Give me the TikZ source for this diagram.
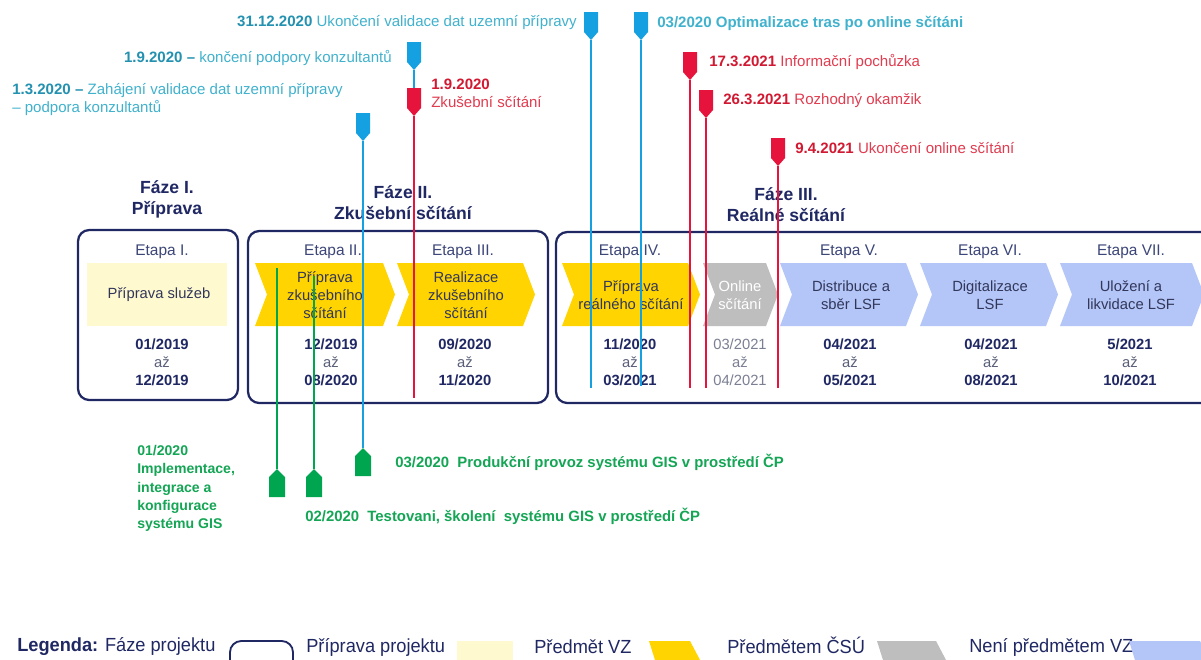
\documentclass[tikz,border=0pt]{standalone}
\usepackage{fontspec}
\setmainfont{Liberation Sans}
\newfontfamily\narrowfont[FakeStretch=0.96]{Liberation Sans}

\definecolor{navy}{RGB}{32,40,100}
\definecolor{etapatext}{RGB}{60,70,120}
\definecolor{steptext}{RGB}{50,55,90}
\definecolor{azgray}{RGB}{90,95,120}
\definecolor{cream}{RGB}{255,249,208}
\definecolor{stepyellow}{RGB}{255,212,0}
\definecolor{stepgray}{RGB}{190,190,190}
\definecolor{stepblue}{RGB}{180,198,248}
\definecolor{markcyan}{RGB}{20,160,225}
\definecolor{cyantext}{RGB}{65,178,205}
\definecolor{cyandark}{RGB}{35,145,175}
\definecolor{markred}{RGB}{230,20,60}
\definecolor{redtext}{RGB}{225,60,80}
\definecolor{reddark}{RGB}{210,25,50}
\definecolor{markgreen}{RGB}{0,165,80}
\definecolor{greentext}{RGB}{20,165,85}

\begin{document}
\begin{tikzpicture}[x=0.025cm,y=-0.025cm,
    phasebox/.style={draw=navy,line width=1.6pt,rounded corners=8pt},
    phasetitle/.style={align=center,text=navy,font=\bfseries\fontsize{12.5}{15}\selectfont},
    etapa/.style={text=etapatext,font=\fontsize{11}{13}\selectfont},
    stepname/.style={align=center,text=steptext,font=\fontsize{10.5}{12.8}\selectfont,inner sep=0},
    period/.style={align=center,text=navy,font=\fontsize{10.5}{12.8}\selectfont,inner sep=0},
    cyanlabel/.style={text=cyantext,font=\fontsize{10.7}{12.8}\selectfont,inner sep=0},
    redlabel/.style={text=redtext,font=\fontsize{10.7}{12.8}\selectfont,inner sep=0},
    greenlabel/.style={text=greentext,align=left,font=\bfseries\fontsize{10}{13}\selectfont,inner sep=0},
    legendtext/.style={text=navy,anchor=west,inner sep=0,font=\narrowfont\fontsize{13.5}{15}\selectfont},
    markline/.style={line width=1pt}]
    \providecommand{\chevron}[3]{\fill[#3] (#1,263) -- (#2-12,263) -- (#2,294.5) -- (#2-12,326) -- (#1,326) -- (#1+12,294.5) -- cycle;}
    \providecommand{\downflag}[4]{\fill[#4] (#2-7,#3) -- (#2+7,#3) -- (#2+7,#3+20) -- (#2,#3+28) -- (#2-7,#3+20) -- cycle;
        \coordinate (#1-top) at (#2,#3); \coordinate (#1) at (#2,#3+28);}
    \providecommand{\upflag}[4]{\fill[#4] (#2-8,#3) -- (#2-8,#3-20) -- (#2,#3-28) -- (#2+8,#3-20) -- (#2+8,#3) -- cycle;
        \coordinate (#1) at (#2,#3-28);}
    \providecommand{\period}[2]{\textbf{#1}\\{\color{azgray}až}\\\textbf{#2}}
    \clip (0,0) rectangle (1201,659);
    \fill[white] (0,0) rectangle (1201,659);

    % phases
    \draw[phasebox] (78,230) rectangle (238,400);
    \draw[phasebox] (248,231) rectangle (548,403);
    \draw[phasebox] (556,232) rectangle (1230,403);
    \node[phasetitle] (f1) at (167,199) {Fáze I.\\Příprava};
    \node[phasetitle] (f2) at (403,203) {Fáze II.\\Zkušební sčítání};
    \node[phasetitle] (f3) at (786,205) {Fáze III.\\Reálné sčítání};

    % steps
    \fill[cream] (87,263) rectangle (227,326);
    \chevron{255}{395}{stepyellow}
    \chevron{397}{535}{stepyellow}
    \chevron{562}{700}{stepyellow}
    \chevron{703}{778}{stepgray}
    \chevron{780}{918}{stepblue}
    \chevron{920}{1058}{stepblue}
    \chevron{1060}{1204}{stepblue}
    \foreach \x/\name/\lab in {162/e1/I., 333/e2/II., 463/e3/III., 630/e4/IV., 849/e5/V., 990/e6/VI., 1131/e7/VII.}
        \node[etapa] (\name) at (\x,252) {Etapa \lab};
    \node[stepname] (s1) at (159,295) {Příprava služeb};
    \node[stepname] (s2) at (325,295) {Příprava\\zkušebního\\sčítání};
    \node[stepname] (s3) at (466,295) {Realizace\\zkušebního\\sčítání};
    \node[stepname] (s4) at (631,295) {Příprava\\reálného sčítání};
    \node[stepname,text=white] (s5) at (740,295) {Online\\sčítání};
    \node[stepname] (s6) at (851,295) {Distribuce a\\sběr LSF};
    \node[stepname] (s7) at (990,295) {Digitalizace\\LSF};
    \node[stepname] (s8) at (1131,295) {Uložení a\\likvidace LSF};

    % periods
    \foreach \x/\name/\from/\to in {162/d1/{01/2019}/{12/2019}, 331/d2/{12/2019}/{08/2020}, 465/d3/{09/2020}/{11/2020},
        630/d4/{11/2020}/{03/2021}, 850/d6/{04/2021}/{05/2021}, 991/d7/{04/2021}/{08/2021}, 1130/d8/{5/2021}/{10/2021}}
        \node[period] (\name) at (\x,362) {\period{\from}{\to}};
    \node[period,text=azgray!80] (d5) at (740,362) {03/2021\\až\\04/2021};

    % milestones
    \downflag{c1}{591}{12}{markcyan}
    \downflag{c2}{641}{12}{markcyan}
    \downflag{c3}{414}{42}{markcyan}
    \downflag{c4}{363}{113}{markcyan}
    \downflag{r1}{414}{88}{markred}
    \downflag{r2}{690}{52}{markred}
    \downflag{r3}{706}{90}{markred}
    \downflag{r4}{778}{138}{markred}
    \upflag{g1}{277}{497}{markgreen}
    \upflag{g2}{314}{497}{markgreen}
    \upflag{g3}{363}{476}{markgreen}
    \coordinate (c1end) at (591,388);
    \coordinate (c2end) at (641,386);
    \coordinate (r1end) at (414,398);
    \coordinate (r2end) at (690,388);
    \coordinate (r3end) at (706,388);
    \coordinate (r4end) at (778,388);
    \coordinate (g1end) at (277,268);
    \coordinate (g2end) at (314,276);
    \draw[markline,markcyan] (c1) -- (c1end);
    \draw[markline,markcyan] (c2) -- (c2end);
    \draw[markline,markcyan] (c3) -- (r1-top);
    \draw[markline,markcyan] (c4) -- (g3);
    \draw[markline,markred] (r1) -- (r1end);
    \draw[markline,markred] (r2) -- (r2end);
    \draw[markline,markred] (r3) -- (r3end);
    \draw[markline,markred] (r4) -- (r4end);
    \draw[markline,markgreen] (g1) -- (g1end);
    \draw[markline,markgreen] (g2) -- (g2end);

    \node[cyanlabel,anchor=east] (c1lab) at (577,23) {{\bfseries\color{cyandark}31.12.2020} Ukončení validace dat uzemní přípravy};
    \node[cyanlabel,anchor=west,font=\bfseries\fontsize{10.7}{12.8}\selectfont] (c2lab) at (657,23) {03/2020 Optimalizace tras po online sčítáni};
    \node[cyanlabel,anchor=east] (c3lab) at (392,58) {{\bfseries\color{cyandark}1.9.2020 –} končení podpory konzultantů};
    \node[cyanlabel,anchor=north west,align=left] (c4lab) at (12,83) {{\bfseries\color{cyandark}1.3.2020 –} Zahájení validace dat uzemní přípravy\\– podpora konzultantů};
    \node[redlabel,anchor=north west,align=left] (r1lab) at (431,79) {{\bfseries\color{reddark}1.9.2020}\\Zkušební sčítání};
    \node[redlabel,anchor=west] (r2lab) at (709,62) {{\bfseries\color{reddark}17.3.2021} Informační pochůzka};
    \node[redlabel,anchor=west] (r3lab) at (723,101) {{\bfseries\color{reddark}26.3.2021} Rozhodný okamžik};
    \node[redlabel,anchor=west] (r4lab) at (795,148) {{\bfseries\color{reddark}9.4.2021} Ukončení online sčítání};
    \node[greenlabel,anchor=north west] (g1lab) at (137,445) {01/2020\\Implementace,\\integrace a\\konfigurace\\systému GIS};
    \node[greenlabel,anchor=west,font=\bfseries\fontsize{10.6}{13}\selectfont] (g3lab) at (395,462) {03/2020\ \ Produkční provoz systému GIS v prostředí ČP};
    \node[greenlabel,anchor=west,font=\bfseries\fontsize{10.6}{13}\selectfont] (g2lab) at (305,516) {02/2020\ \ Testovani, školení\ \ systému GIS v prostředí ČP};

    % legend
    \node[legendtext] (leg1) at (17,647) {{\bfseries Legenda:} Fáze projektu};
    \draw[phasebox,line width=1.3pt] (230,641) rectangle (293,675);
    \node[legendtext] (leg2) at (306,647) {Příprava projektu};
    \fill[cream] (457,641) rectangle (513,675);
    \node[legendtext] (leg3) at (534,647) {Předmět VZ};
    \fill[stepyellow] (649,641) -- (690,641) -- (700,660) -- (690,679) -- (649,679) -- (655,660) -- cycle;
    \node[legendtext] (leg4) at (727,645) {Předmětem ČSÚ};
    \fill[stepgray] (877,641) -- (936,641) -- (946,660) -- (936,679) -- (877,679) -- (883,660) -- cycle;
    \node[legendtext] (leg5) at (969,647) {Není předmětem VZ};
    \fill[stepblue] (1129,641) -- (1200,641) -- (1210,660) -- (1200,679) -- (1129,679) -- (1135,660) -- cycle;
\end{tikzpicture}
\end{document}
